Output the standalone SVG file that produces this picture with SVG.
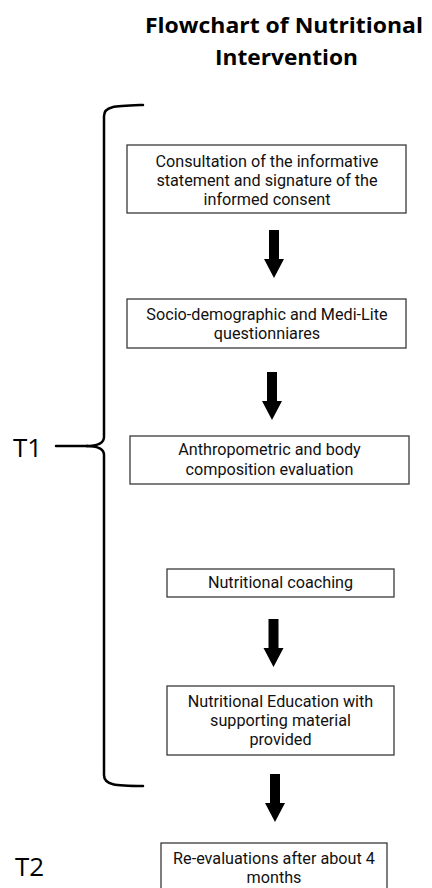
<svg xmlns="http://www.w3.org/2000/svg" xmlns:xlink="http://www.w3.org/1999/xlink" width="432" height="888" viewBox="0 0 432 888">
<style>
.box{fill:#fff;stroke:#3a3a3a;stroke-width:1.3}
.t{font-family:Roboto,"Liberation Sans",sans-serif;font-size:16.2px;fill:#111;text-anchor:middle}
.title{font-family:"Open Sans","Noto Sans",sans-serif;font-size:22px;font-weight:bold;fill:#000;text-anchor:middle}
.lab{font-family:"Open Sans","Noto Sans",sans-serif;font-size:26px;fill:#000}
.brace{fill:none;stroke:#000;stroke-width:2.5;stroke-linecap:round}
</style>
<defs>
<path id="arr" d="M-5,0 L5,0 L5,29 L10,29 L0,48 L-10,29 L-5,29 Z" fill="#000"/>
</defs>
<rect width="432" height="888" fill="#fff"/>
<g id="title">
<text class="title" x="284" y="33" textLength="278" lengthAdjust="spacingAndGlyphs">Flowchart of Nutritional</text>
<text class="title" x="286.5" y="65" textLength="143" lengthAdjust="spacingAndGlyphs">Intervention</text>
</g>
<g id="brace-T1">
<path class="brace" d="M143,105 C115,106 104,106 104,116 L104,437 C104,444 96,446 86,446 C96,446 104,448 104,455 L104,775 C104,785 115,786 143,786"/>
<path class="brace" d="M56,446 L88,446"/>
<text class="lab" x="13" y="457">T1</text>
</g>
<g id="label-T2">
<text class="lab" x="15" y="876">T2</text>
</g>
<g id="n1">
<rect class="box" x="127" y="145" width="279" height="68"/>
<text class="t" x="267" y="167">Consultation of the informative</text>
<text class="t" x="267" y="186">statement and signature of the</text>
<text class="t" x="267" y="205">informed consent</text>
</g>
<g id="n2">
<rect class="box" x="127" y="299" width="279" height="49"/>
<text class="t" x="267" y="320">Socio-demographic  and Medi-Lite</text>
<text class="t" x="267" y="339">questionniares</text>
</g>
<g id="n3">
<rect class="box" x="130" y="436" width="279" height="48"/>
<text class="t" x="269.5" y="455">Anthropometric  and body</text>
<text class="t" x="269.5" y="475">composition  evaluation</text>
</g>
<g id="n4">
<rect class="box" x="167" y="569" width="227" height="28"/>
<text class="t" x="280.5" y="588">Nutritional coaching</text>
</g>
<g id="n5">
<rect class="box" x="167" y="686" width="227" height="69"/>
<text class="t" x="280.5" y="707">Nutritional Education with</text>
<text class="t" x="280.5" y="726">supporting material</text>
<text class="t" x="280.5" y="745">provided</text>
</g>
<g id="n6">
<rect class="box" x="161" y="843" width="226" height="60"/>
<text class="t" x="274" y="864">Re-evaluations after about 4</text>
<text class="t" x="274" y="883">months</text>
</g>
<g id="connectors">
<use xlink:href="#arr" x="274" y="230"/>
<use xlink:href="#arr" x="272" y="372"/>
<use xlink:href="#arr" x="273.5" y="619"/>
<use xlink:href="#arr" x="275" y="774"/>
</g>
</svg>
